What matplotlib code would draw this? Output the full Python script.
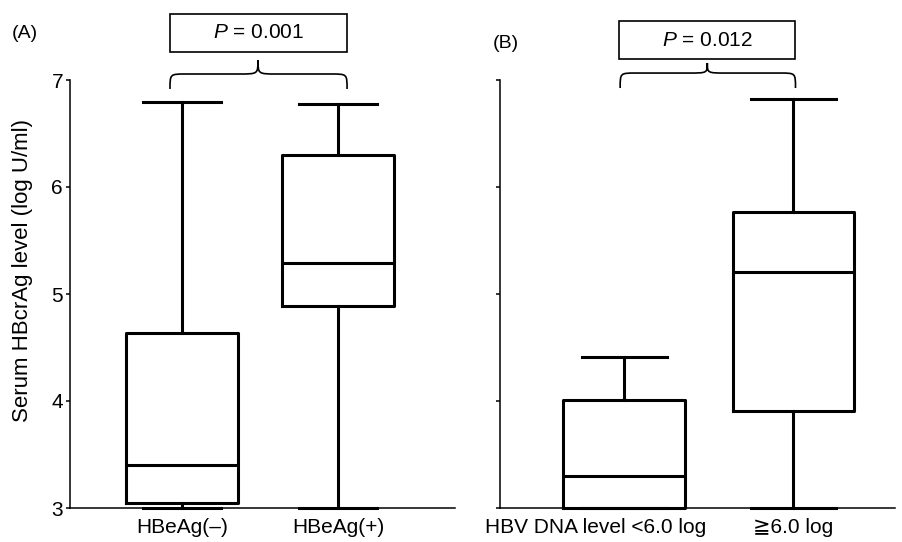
import numpy as np
import matplotlib
matplotlib.use('Agg')
import matplotlib.pyplot as plt
from matplotlib.path import Path
from matplotlib.patches import PathPatch, Rectangle

plt.rcParams['font.family'] = ['Liberation Sans', 'DejaVu Sans']
plt.rcParams['mathtext.fontset'] = 'custom'
plt.rcParams['mathtext.it'] = 'Liberation Sans:italic'
plt.rcParams['mathtext.rm'] = 'Liberation Sans'

# panel A: HBeAg status
groups_a = ['HBeAg(–)', 'HBeAg(+)']
whislo_a = [3.0, 3.0]
q1_a = [3.05, 4.89]
med_a = [3.40, 5.29]
q3_a = [4.64, 6.30]
whishi_a = [6.79, 6.78]
p_a = '$P$ = 0.001'

# panel B: HBV DNA level
groups_b = ['HBV DNA level <6.0 log', '≧6.0 log']
whislo_b = [3.0, 3.0]
q1_b = [3.0, 3.91]
med_b = [3.30, 5.21]
q3_b = [4.01, 5.77]
whishi_b = [4.41, 6.82]
p_b = '$P$ = 0.012'

yticks = [3, 4, 5, 6, 7]


def make_stats(lo, q1, med, q3, hi):
    stats = []
    for i in range(len(med)):
        stats.append(dict(whislo=lo[i], q1=q1[i], med=med[i], q3=q3[i],
                          whishi=hi[i], fliers=[]))
    return stats


def brace(ax, x1, x2, xm, yb, yh, yt, rx, rm):
    verts = [(x1, yb), (x1, yh), (x1, yh), (x1 + rx, yh),
             (xm - rm, yh),
             (xm, yh), (xm, yh), (xm, yt),
             (xm, yh), (xm, yh), (xm + rm, yh),
             (x2 - rx, yh),
             (x2, yh), (x2, yh), (x2, yb)]
    codes = [Path.MOVETO, Path.CURVE4, Path.CURVE4, Path.CURVE4,
             Path.LINETO,
             Path.CURVE4, Path.CURVE4, Path.CURVE4,
             Path.CURVE4, Path.CURVE4, Path.CURVE4,
             Path.LINETO,
             Path.CURVE4, Path.CURVE4, Path.CURVE4]
    ax.add_patch(PathPatch(Path(verts, codes), fill=False, lw=1.2,
                           color='black', clip_on=False))


def draw_panel(ax, stats, labels, label_pos, xlim):
    lw = 2.2
    ax.bxp(stats, positions=[1, 2], widths=0.72, capwidths=0.5,
           showfliers=False, patch_artist=False,
           boxprops=dict(lw=lw, color='black'),
           medianprops=dict(lw=lw, color='black'),
           whiskerprops=dict(lw=lw, color='black'),
           capprops=dict(lw=lw, color='black'))
    for art in ax.lines:
        art.set_clip_on(False)
    ax.set_xlim(*xlim)
    ax.set_ylim(3, 7)
    ax.set_yticks(yticks)
    ax.set_xticks(label_pos)
    ax.set_xticklabels(labels, fontsize=15)
    ax.tick_params(axis='x', length=0, pad=7)
    ax.tick_params(axis='y', length=3, width=1.1, direction='out', pad=2,
                   labelsize=15)
    for s in ['top', 'right']:
        ax.spines[s].set_visible(False)
    for s in ['left', 'bottom']:
        ax.spines[s].set_linewidth(1.1)


fig = plt.figure(figsize=(9.02, 5.42), dpi=100)
ax1 = fig.add_axes([70 / 902, 34 / 542, 385 / 902, 428 / 542])
ax2 = fig.add_axes([500 / 902, 34 / 542, 395 / 902, 428 / 542])

draw_panel(ax1, make_stats(whislo_a, q1_a, med_a, q3_a, whishi_a),
           groups_a, [1, 2], (0.282, 2.75))
draw_panel(ax2, make_stats(whislo_b, q1_b, med_b, q3_b, whishi_b),
           groups_b, [0.83, 2], (0.266, 2.60))
ax2.set_yticklabels([])
ax1.set_ylabel('Serum HBcrAg level (log U/ml)', fontsize=16)
ax1.yaxis.set_label_coords(-0.096, 0.554)

# significance brackets
brace(ax1, 0.923, 2.058, 1.487, 6.916, 7.056, 7.187, 0.10, 0.12)
brace(ax2, 0.976, 2.012, 1.491, 6.925, 7.065, 7.159, 0.09, 0.11)

ax1.add_patch(Rectangle((0.923, 7.262), 2.058 - 0.923, 7.617 - 7.262,
                        fill=False, lw=1.2, color='black', clip_on=False))
ax1.text(1.49, 7.44, p_a, ha='center', va='center', fontsize=15)
ax2.add_patch(Rectangle((0.970, 7.196), 2.012 - 0.970, 7.551 - 7.196,
                        fill=False, lw=1.2, color='black', clip_on=False))
ax2.text(1.49, 7.373, p_b, ha='center', va='center', fontsize=15)

fig.text(12 / 902, 1 - 33 / 542, '(A)', fontsize=14, va='center')
fig.text(493 / 902, 1 - 43 / 542, '(B)', fontsize=14, va='center')

fig.savefig('out.png', dpi=100)
